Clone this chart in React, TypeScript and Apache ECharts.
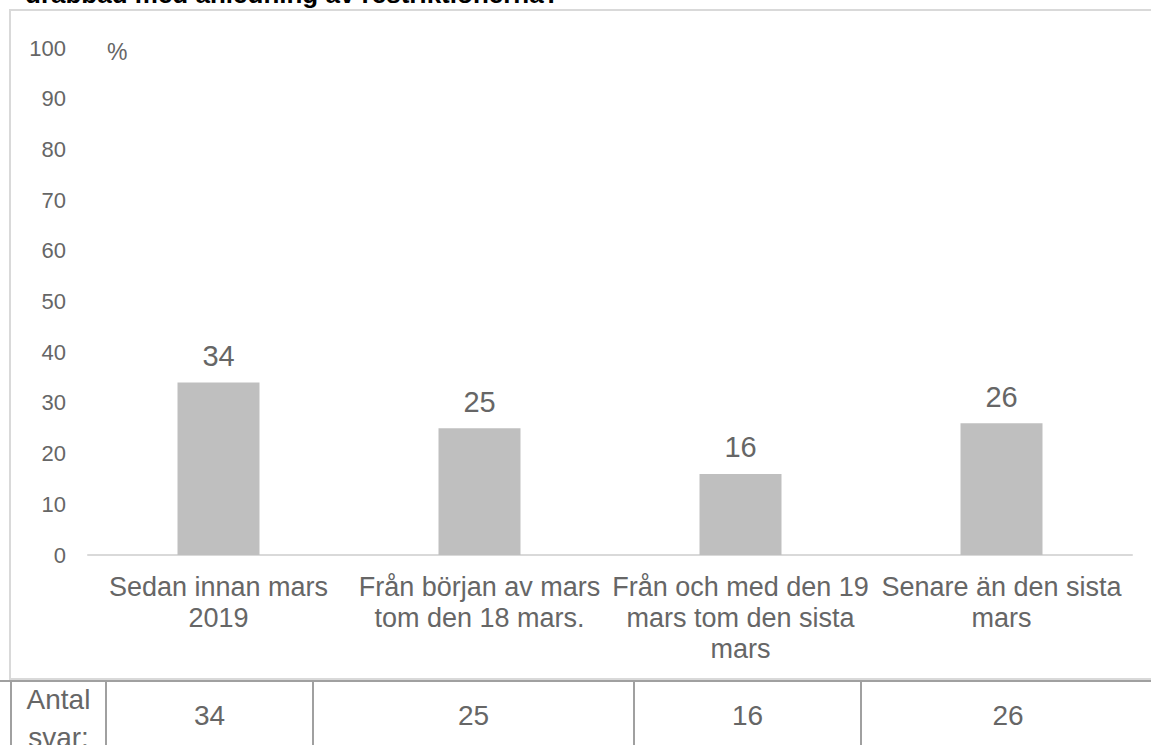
import React, { useEffect, useRef } from "react";
import * as echarts from "echarts";

const categories = [
  "Sedan innan mars\n2019",
  "Från början av mars\ntom den 18 mars.",
  "Från och med den 19\nmars tom den sista\nmars",
  "Senare än den sista\nmars",
];
const percentValues = [34, 25, 16, 26];
const antalSvar = [34, 25, 16, 26];
const tableHeader = "Antal\nsvar:";
const yTicks = { min: 0, max: 100, interval: 10 };
const titleText = "drabbad med anledning av restriktionerna?";

const TEXT = "#666666";
const FONT = "Liberation Sans, Arial, sans-serif";
const NARROW = "'Liberation Sans Narrow', 'Liberation Sans', Arial, sans-serif";

export default function App() {
  const ref = useRef<HTMLDivElement>(null);
  useEffect(() => {
    if (!ref.current) return;
    const chart = echarts.init(ref.current, undefined, { renderer: "svg" });
    const colEdges = [11, 106, 313, 634, 861, 1155];
    const tableTop = 681;
    const lineColor = "#a0a0a0";
    const graphics: any[] = [
      {
        type: "text",
        left: 25,
        top: -19,
        style: { text: titleText, font: `bold 26px ${FONT}`, fill: "#000" },
        z: 10,
      },
      {
        type: "rect",
        shape: { x: 10, y: 10, width: 1160, height: 669 },
        style: { fill: "none", stroke: "#d9d9d9", lineWidth: 2 },
        z: 0,
      },
      {
        type: "text",
        x: 107,
        y: 52,
        style: { text: "%", font: `23px ${FONT}`, fill: TEXT, verticalAlign: "middle" },
      },
      {
        type: "line",
        shape: { x1: 0, y1: tableTop, x2: 1151, y2: tableTop },
        style: { stroke: lineColor, lineWidth: 2 },
      },
    ];
    colEdges.slice(0, 5).forEach((x) => {
      graphics.push({
        type: "line",
        shape: { x1: x, y1: tableTop, x2: x, y2: 745 },
        style: { stroke: lineColor, lineWidth: 2 },
      });
    });
    graphics.push({
      type: "text",
      x: (colEdges[0] + colEdges[1]) / 2,
      y: 718,
      style: {
        text: tableHeader,
        font: `28px ${NARROW}`,
        lineHeight: 38,
        fill: TEXT,
        align: "center",
        verticalAlign: "middle",
      },
    });
    antalSvar.forEach((v, i) => {
      graphics.push({
        type: "text",
        x: (colEdges[i + 1] + colEdges[i + 2]) / 2,
        y: 715,
        style: {
          text: String(v),
          font: `28px ${NARROW}`,
          fill: TEXT,
          align: "center",
          verticalAlign: "middle",
        },
      });
    });

    chart.setOption({
      animation: false,
      grid: { left: 88, right: 19, top: 48, bottom: 190, containLabel: false },
      xAxis: {
        type: "category",
        data: categories,
        axisLine: { show: true, lineStyle: { color: "#d9d9d9", width: 2 } },
        axisTick: { show: false },
        axisLabel: {
          color: TEXT,
          fontSize: 27,
          lineHeight: 31,
          fontFamily: FONT,
          margin: 16,
          interval: 0,
          align: "center",
        },
      },
      yAxis: {
        type: "value",
        min: yTicks.min,
        max: yTicks.max,
        interval: yTicks.interval,
        axisLine: { show: false },
        axisTick: { show: false },
        splitLine: { show: false },
        axisLabel: { color: TEXT, fontSize: 22, fontFamily: FONT, margin: 22 },
      },
      series: [
        {
          type: "bar",
          data: percentValues,
          barWidth: 82,
          itemStyle: { color: "#bfbfbf" },
          label: {
            show: true,
            position: "top",
            distance: 12,
            color: TEXT,
            fontSize: 29,
            fontFamily: FONT,
          },
        },
      ],
      graphic: graphics,
    });
    return () => chart.dispose();
  }, []);
  return (
    <div
      ref={ref}
      style={{ position: "fixed", left: 0, top: 0, width: 1151, height: 745, background: "#fff" }}
    />
  );
}
